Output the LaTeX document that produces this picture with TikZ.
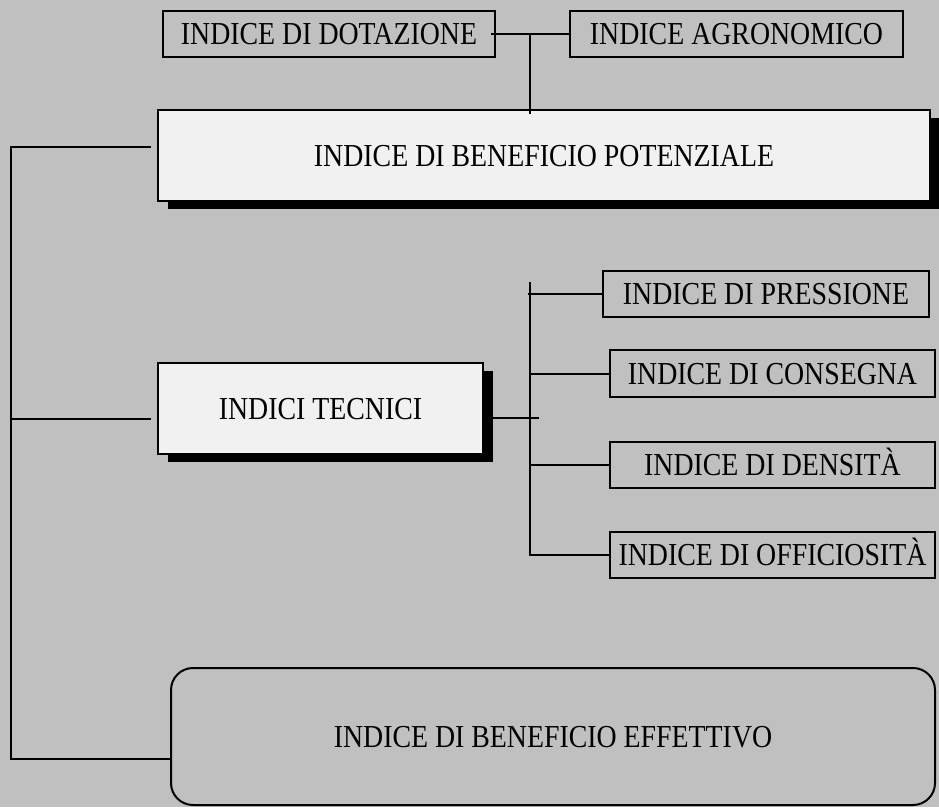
\documentclass[tikz,border=0pt]{standalone}
\usepackage{fontspec}
\newfontfamily\cf[FakeStretch=0.87]{Liberation Serif}
\usetikzlibrary{shadows}
\definecolor{bggray}{HTML}{C0C0C0}
\definecolor{boxfill}{HTML}{F1F1F1}
\begin{document}
\begin{tikzpicture}[x=1pt,y=-1pt,
  every node/.style={font=\cf\fontsize{32}{38}\selectfont, inner sep=0pt, text height=21pt, text depth=0pt},
  lbl/.style={draw=black, line width=2pt, rectangle},
  main/.style={draw=black, line width=2pt, rectangle, fill=boxfill,
    drop shadow={shadow xshift=10pt, shadow yshift=-8pt, fill=black, opacity=1}},
  eff/.style={draw=black, line width=2pt, rounded corners=22pt},
  conn/.style={line width=2pt, black}]
\fill[bggray] (0,0) rectangle (939,807);
\useasboundingbox (0,0) rectangle (939,807);

% top boxes
\node[lbl, minimum width=332pt, minimum height=46pt] (dot) at (329,34) {INDICE DI DOTAZIONE};
\node[lbl, minimum width=333pt, minimum height=46pt] (agr) at (736.5,34) {INDICE AGRONOMICO};

% main boxes
\node[main, minimum width=772pt, minimum height=91pt] (pot) at (544,155.5) {INDICE DI BENEFICIO POTENZIALE};
\node[main, minimum width=325pt, minimum height=91pt] (tec) at (320.5,408.5) {INDICI TECNICI};
\node[eff, minimum width=764pt, minimum height=137pt] (eff) at (553,736.5) {INDICE DI BENEFICIO EFFETTIVO};

% right boxes
\node[lbl, minimum width=326pt, minimum height=46pt] (pre) at (766,294) {INDICE DI PRESSIONE};
\node[lbl, minimum width=325pt, minimum height=47pt] (con) at (772.5,373.5) {INDICE DI CONSEGNA};
\node[lbl, minimum width=325pt, minimum height=46pt] (den) at (772.5,465) {INDICE DI DENSIT\`A};
\node[lbl, minimum width=325pt, minimum height=46pt] (off) at (772.5,555) {INDICE DI OFFICIOSIT\`A};

% top connectors
\coordinate (j1) at (530,34);
\draw[conn] ([xshift=-5pt]dot.east) -- (agr.west);
\draw[conn] (j1) -- ([yshift=-5pt]j1 |- pot.north);

% left spine
\coordinate (s1) at (11,147);
\coordinate (s2) at (11,419);
\coordinate (s3) at (11,759);
\draw[conn] ([xshift=-6pt]s1 -| pot.west) -- (s1) -- (s3) -- (s3 -| eff.west);
\draw[conn] (s2) -- ([xshift=-6pt]s2 -| tec.west);

% right spine
\coordinate (r0) at (530,282);
\coordinate (rx) at (539,418);
\draw[conn] (rx -| tec.east) -- (rx);
\draw[conn] (r0) -- (r0 |- off.west) -- (off.west);
\draw[conn] ([xshift=-2pt]r0 |- pre.west) -- (pre.west);
\draw[conn] (r0 |- con.west) -- (con.west);
\draw[conn] (r0 |- den.west) -- (den.west);
\end{tikzpicture}
\end{document}
